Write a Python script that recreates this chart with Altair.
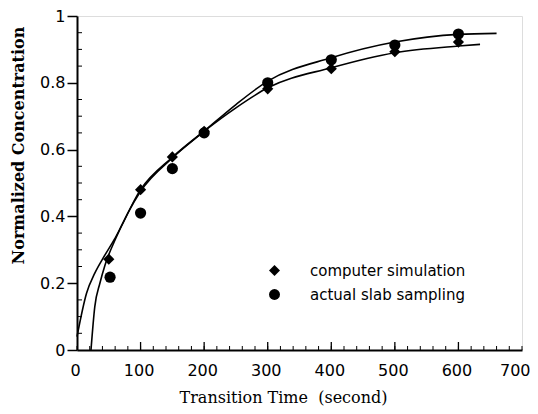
import altair as alt
import pandas as pd

# data points
sim_x = [50, 100, 150, 200, 300, 400, 500, 600]
sim_y = [0.272, 0.48, 0.578, 0.655, 0.782, 0.842, 0.893, 0.922]
exp_x = [52, 100, 150, 200, 300, 400, 500, 600]
exp_y = [0.218, 0.41, 0.543, 0.65, 0.80, 0.869, 0.913, 0.946]

# fitted curves
sim_fit_x = [0, 15, 28, 41, 60, 100, 150, 200, 250, 300, 400, 500, 600, 634]
sim_fit_y = [0.04, 0.17, 0.23, 0.275, 0.335, 0.48, 0.577, 0.655, 0.725, 0.785, 0.845, 0.89, 0.91, 0.915]
exp_fit_x = [22, 28, 36, 44, 60, 100, 150, 200, 250, 300, 400, 500, 600, 660]
exp_fit_y = [0.0, 0.13, 0.2, 0.254, 0.33, 0.475, 0.575, 0.655, 0.735, 0.805, 0.875, 0.922, 0.945, 0.948]

series_names = ["computer simulation", "actual slab sampling"]
x_labels = [0, 100, 200, 300, 400, 500, 600, 700]
y_labels = [0, 0.2, 0.4, 0.6, 0.8, 1.0]
x_minor = list(range(0, 701, 20))
y_minor = [0.05, 0.1, 0.15, 0.25, 0.3, 0.35, 0.45, 0.5, 0.55, 0.65, 0.7, 0.75, 0.85, 0.9, 0.95]

W, H = 445, 334

pts = pd.DataFrame(
    {"x": sim_x + exp_x, "y": sim_y + exp_y,
     "series": [series_names[0]] * len(sim_x) + [series_names[1]] * len(exp_x)}
)
fits = pd.DataFrame(
    {"x": sim_fit_x + exp_fit_x, "y": sim_fit_y + exp_fit_y,
     "series": [series_names[0]] * len(sim_fit_x) + [series_names[1]] * len(exp_fit_x)}
)

xscale = alt.Scale(domain=[0, 700], nice=False, zero=False)
yscale = alt.Scale(domain=[0, 1], nice=False, zero=False)

xaxis = alt.Axis(
    values=x_labels, format="d", ticks=False, grid=False, labelPadding=12,
    labelFlush=False,
    labelAlign=alt.condition("datum.value == 700", alt.value("right"), alt.value("center")),
    labelOffset=alt.condition("datum.value == 700", alt.value(8), alt.value(-2)),
    labelFont="DejaVu Sans", labelFontSize=16, labelColor="black",
    domainColor="black", domainWidth=2,
    title="Transition Time\u00a0\u00a0(second)", titleFont="DejaVu Serif", titleFontSize=16,
    titleFontWeight="normal", titleColor="black", titleX=206, titleY=47,
    titleBaseline="middle",
)
yaxis = alt.Axis(
    values=y_labels, format="~g", ticks=True, tickSize=10, tickColor="black",
    tickWidth=1.5, grid=False, labelPadding=2, labelFlush=False,
    labelFont="DejaVu Sans", labelFontSize=16, labelColor="black",
    domainColor="black", domainWidth=2,
    title="Normalized Concentration", titleFont="DejaVu Serif", titleFontSize=16,
    titleFontWeight="bold", titleColor="black", titleAngle=270, titleX=-59, titleY=129,
    titleBaseline="middle", titleAlign="center",
)

lines = alt.Chart(fits).mark_line(color="black", strokeWidth=1.6, interpolate="monotone").encode(
    x=alt.X("x:Q", scale=xscale, axis=xaxis),
    y=alt.Y("y:Q", scale=yscale, axis=yaxis),
    detail="series:N",
)

points = alt.Chart(pts).mark_point(filled=True, color="black", opacity=1, size=125).encode(
    x=alt.X("x:Q", scale=xscale, axis=xaxis),
    y=alt.Y("y:Q", scale=yscale, axis=yaxis),
    shape=alt.Shape(
        "series:N",
        scale=alt.Scale(domain=series_names, range=["diamond", "circle"]),
        legend=alt.Legend(
            title=None, orient="none", legendX=190, legendY=247,
            labelFont="DejaVu Sans", labelFontSize=15, labelColor="black",
            symbolSize=120, symbolFillColor="black", symbolStrokeColor="black",
            symbolType="circle", rowPadding=7, labelOffset=28,
        ),
    ),
)

xt = pd.DataFrame({"x": x_minor})
xt_major = pd.DataFrame({"x": x_labels[1:-1]})
yt = pd.DataFrame({"y": y_minor})

x_minor_ticks = alt.Chart(xt).mark_rule(color="black", strokeWidth=1).encode(
    x=alt.X("x:Q", scale=xscale, axis=xaxis), y=alt.value(H), y2=alt.value(H - 4)
)
x_major_ticks = alt.Chart(xt_major).mark_rule(color="black", strokeWidth=1.3).encode(
    x=alt.X("x:Q", scale=xscale, axis=xaxis), y=alt.value(H), y2=alt.value(H - 8)
)
y_minor_ticks = alt.Chart(yt).mark_rule(color="black", strokeWidth=1).encode(
    y=alt.Y("y:Q", scale=yscale, axis=yaxis), x=alt.value(0), x2=alt.value(5)
)

chart = alt.layer(lines, points, x_minor_ticks, x_major_ticks, y_minor_ticks).properties(
    width=W, height=H,
    autosize=alt.AutoSizeParams(type="none"),
    padding={"left": 69, "top": 8, "right": 8, "bottom": 56},
).configure_view(stroke="black", strokeWidth=2).configure(background="white")

chart.save("out.html", embed_options={"renderer": "svg", "actions": False})
